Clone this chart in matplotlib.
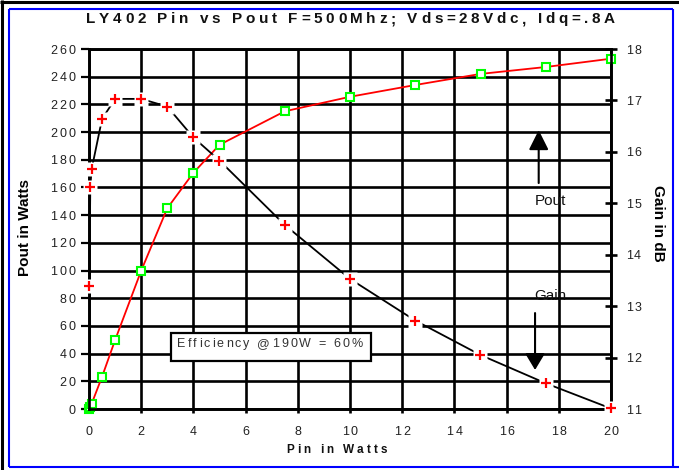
import matplotlib
matplotlib.use('Agg')
import matplotlib.pyplot as plt
from matplotlib.font_manager import FontProperties, findfont, get_font
from matplotlib.patches import Rectangle
from matplotlib.lines import Line2D

W, H = 679, 470
FAM = 'Liberation Sans'

# ---- data ----
pin_w = [0.01, 0.05, 0.1, 0.5, 1, 2, 3, 4, 5, 7.5, 10, 12.5, 15, 17.5, 20]
pout_w = [0.22, 1.7, 3.7, 23.3, 49.8, 99.9, 145, 170.6, 190.8, 215, 225.5, 234, 242, 247, 253]
gain_db = [13.4, 15.32, 15.66, 16.64, 17.03, 17.03, 16.88, 16.28, 15.83, 14.58, 13.53, 12.72, 12.05, 11.5, 11.01]
x_ticks = list(range(0, 21, 2))
pout_ticks = list(range(0, 261, 20))
gain_ticks = list(range(11, 19))
title = "LY402 Pin vs Pout F=500Mhz; Vds=28Vdc, Idq=.8A"
note = "Efficiency @190W = 60%"

fig = plt.figure(figsize=(W / 100, H / 100), dpi=100)
fig.patch.set_facecolor('white')


def advances(s, size, weight):
    prop = FontProperties(family=FAM, size=size, weight=weight)
    font = get_font(findfont(prop))
    font.set_size(size, 100)
    return [font.load_char(ord(c)).linearHoriAdvance / 65536.0 for c in s]


def tracked(s, x, base, size, track, ha='left', weight='normal', color='black', zorder=3):
    adv = advances(s, size, weight)
    total = sum(adv) + track * (len(s) - 1)
    if ha == 'center':
        x = x - total / 2
    elif ha == 'right':
        x = x - total
    for c, a in zip(s, adv):
        if c != ' ':
            fig.text(x / W, 1 - base / H, c, ha='left', va='baseline', fontsize=size,
                     fontweight=weight, family=FAM, color=color, zorder=zorder)
        x += a + track


def fitted(s, x0, x1, base, size, weight='normal', color='black', zorder=3):
    adv = advances(s, size, weight)
    track = (x1 - x0 - sum(adv)) / (len(s) - 1)
    tracked(s, x0, base, size, track, 'left', weight, color, zorder)


# ---- axes ----
ax = fig.add_axes([89 / W, 1 - 409 / H, 522 / W, 360 / H])
ax.set_xlim(0, 20)
ax.set_ylim(0, 260)
ax.set_xticks(x_ticks)
ax.set_yticks(pout_ticks)
ax.set_axisbelow(True)
ax.grid(True, color='black', lw=1.9)
for sp in ax.spines.values():
    sp.set_linewidth(1.9)
ax.tick_params(axis='y', direction='out', length=6, width=1.6, labelleft=False)
ax.tick_params(axis='x', direction='out', length=3, width=1.9, labelbottom=False)

ax2 = ax.twinx()
ax2.set_ylim(11, 18)
ax2.set_yticks(gain_ticks)
ax2.tick_params(axis='y', direction='inout', length=9, width=1.9, labelright=False)
for sp in ax2.spines.values():
    sp.set_linewidth(1.9)

# Pout curve
ax.plot(pin_w, pout_w, color='#ff0000', lw=1.3, zorder=3, clip_on=False)
ax.plot(pin_w, pout_w, ls='none', marker='s', ms=6, mfc='white', mec='#00ff00', mew=1.5,
        zorder=4, clip_on=False)

# Gain curve
ax2.plot(pin_w, gain_db, color='black', lw=1.3, zorder=2, clip_on=False)
ax2.plot(pin_w, gain_db, ls='none', marker='s', ms=9.5, mfc='white', mec='none', zorder=3, clip_on=False)
ax2.plot(pin_w, gain_db, ls='none', marker='+', ms=7, mec='#ff0000', mew=1.6, zorder=4, clip_on=False)

# arrows + labels
ax.annotate('', xy=(17.23, 201.4), xytext=(17.23, 163.2),
            arrowprops=dict(arrowstyle='-|>,head_length=0.6,head_width=0.3', color='black',
                            lw=1.5, shrinkA=0, shrinkB=0, mutation_scale=20), zorder=6)
ax.annotate('', xy=(17.09, 28.2), xytext=(17.09, 69.3),
            arrowprops=dict(arrowstyle='-|>,head_length=0.5,head_width=0.3', color='black',
                            lw=1.5, shrinkA=0, shrinkB=0, mutation_scale=20), zorder=6)
fig.text(550.5 / W, 1 - 205 / H, 'Pout', ha='center', va='baseline', fontsize=11,
         family=FAM, color='#111111', zorder=6)
fig.text(550.5 / W, 1 - 300 / H, 'Gain', ha='center', va='baseline', fontsize=11,
         family=FAM, color='#111111', zorder=6)

# tick labels
for v in pout_ticks:
    px, py = ax.transData.transform((0, v))
    tracked(str(v), 75, (H - py) + 4.5, 9, 1.8, ha='right', color='#222222')
for v in x_ticks:
    px, py = ax.transData.transform((v, 0))
    tracked(str(v), px, 435, 9, 1.8, ha='center', color='#222222')
for v in gain_ticks:
    px, py = ax2.transData.transform((20, v))
    tracked(str(v), 626, (H - py) + 4.5, 9, 1.2, ha='left', color='#222222')

# titles
fitted(title, 86, 615, 23, 11, weight='bold', color='#111111')
fitted('Pin in Watts', 286, 387, 453, 8.5, weight='bold', color='#111111')
fig.text(25 / W, 1 - 228 / H, 'Pout in Watts', rotation=90, ha='center', va='center',
         fontsize=11, fontweight='bold', family=FAM, color='black')
fig.text(658 / W, 1 - 223 / H, 'Gain in dB', rotation=270, ha='center', va='center',
         fontsize=11, fontweight='bold', family=FAM, color='black')

# efficiency box
fig.patches.append(Rectangle((171 / W, 1 - 360.7 / H), 200 / W, 28 / H, transform=fig.transFigure,
                             fc='white', ec='black', lw=1.6, zorder=5, figure=fig))
fitted(note, 177, 363, 347, 9, color='#333333', zorder=6)

# figure frame
def fline(xs, ys, color, lw):
    fig.lines.append(Line2D([x / W for x in xs], [1 - y / H for y in ys], transform=fig.transFigure,
                            color=color, lw=lw, zorder=10, figure=fig, solid_capstyle='butt'))

fline([1.5, 1.5], [0, H], 'black', 2.2)
fline([0, W], [1.5, 1.5], 'black', 2.2)
fline([9, 9], [9, 467], '#0000ff', 1.5)
fline([9, 673], [9, 9], '#0000ff', 1.5)
fline([9, W], [467, 467], '#0000ff', 1.5)
fline([673, 673], [9, 467], '#0000ff', 1.5)

fig.savefig('out.png', dpi=100, facecolor='white')
